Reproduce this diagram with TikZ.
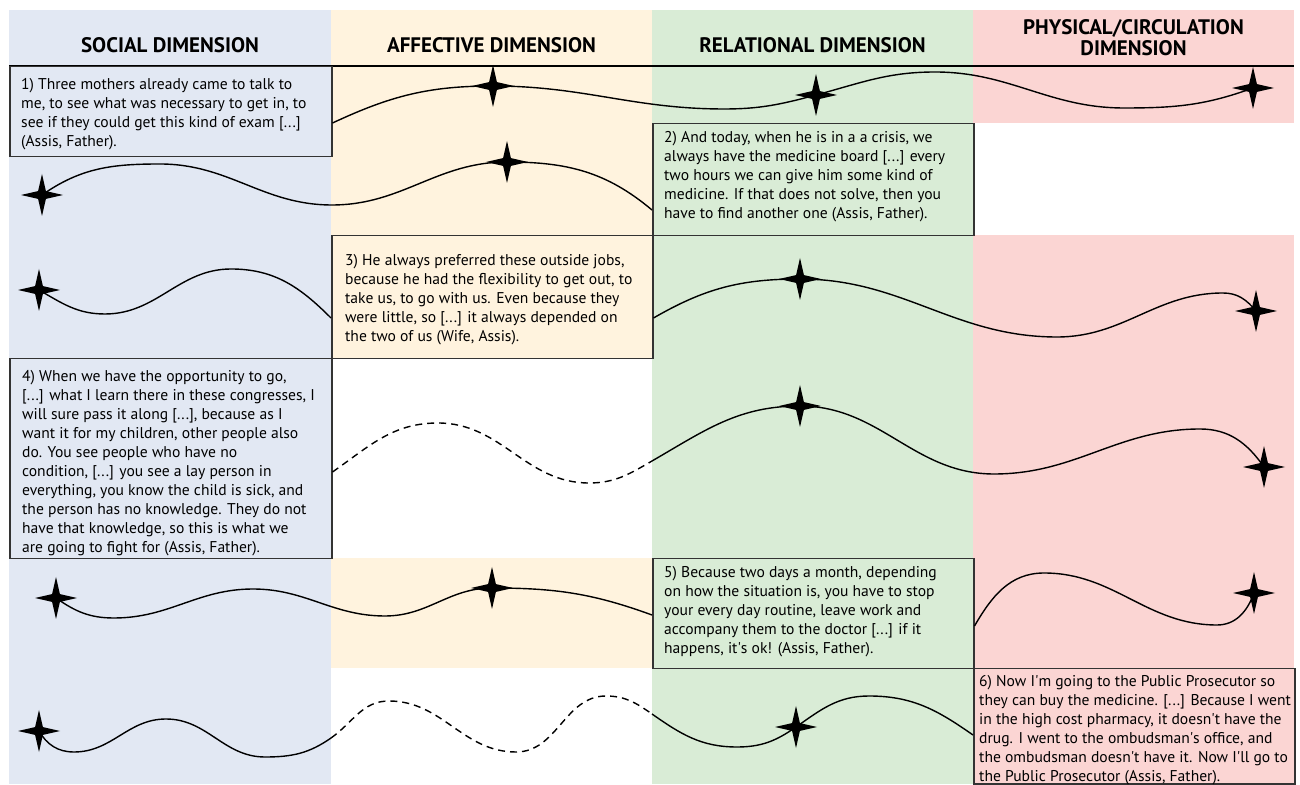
\documentclass[tikz,border=0pt]{standalone}
\usepackage{fontspec}
\setmainfont{PT Sans}
\usetikzlibrary{shapes.geometric}
\definecolor{socbg}{HTML}{E2E8F3}
\definecolor{affbg}{HTML}{FFF3DE}
\definecolor{relbg}{HTML}{D9ECD6}
\definecolor{phybg}{HTML}{FBD5D3}
\definecolor{boxline}{HTML}{333333}
\newcommand{\apo}{\textquotesingle}
\begin{document}
\begin{tikzpicture}[x=1pt,y=1pt,
  hdr/.style={font=\fontsize{21}{21}\selectfont\bfseries, align=center, inner sep=0pt},
  qbox/.style={draw=boxline, line width=1.5pt, rectangle, anchor=north west, inner sep=0pt},
  qtext/.style={font=\fontsize{15.6}{19}\selectfont, align=left, anchor=north west, inner sep=0pt},
  mark4/.style={star, star points=4, star point ratio=3.8, minimum size=42pt, inner sep=0pt, fill=black, draw=none},
  wave/.style={line width=1.4pt, black},
  dwave/.style={wave, dash pattern=on 7pt off 5pt}
]
\useasboundingbox (0,0) rectangle (1300,784);
% column backgrounds
\fill[socbg] (9,0) rectangle (331,774);
\fill[affbg] (331,426) rectangle (652,774);
\fill[affbg] (331,116) rectangle (652,226);
\fill[relbg] (652,0) rectangle (973,774);
\fill[phybg] (973,661) rectangle (1294,774);
\fill[phybg] (973,0) rectangle (1294,549);
% headers
\node[hdr] (h1) at (170,739) {SOCIAL DIMENSION};
\node[hdr] (h2) at (491.5,739) {AFFECTIVE DIMENSION};
\node[hdr] (h3) at (812.5,739) {RELATIONAL DIMENSION};
\node[hdr] (h4) at (1133.5,746.5) {PHYSICAL/CIRCULATION\\DIMENSION};
\draw[line width=2pt] (9,718) -- (1294,718);
% boxes
\node[qbox, fill=socbg, minimum width=322pt, minimum height=90pt] (b1) at (9,718) {};
\node[qbox, fill=relbg, minimum width=321pt, minimum height=112pt] (b2) at (652,661) {};
\node[qbox, fill=affbg, minimum width=321pt, minimum height=123pt] (b3) at (331,549) {};
\node[qbox, fill=socbg, minimum width=322pt, minimum height=200pt] (b4) at (9,426) {};
\node[qbox, fill=relbg, minimum width=321pt, minimum height=110pt] (b5) at (652,226) {};
\node[qbox, fill=phybg, minimum width=321pt, minimum height=115pt] (b6) at (973,116) {};
% texts
\node[qtext] (t1) at (21,706) {1) Three mothers already came to talk to\\me, to see what was necessary to get in, to\\see if they could get this kind of exam [...]\\(Assis, Father).};
\node[qtext] (t2) at (664,653) {2) And today, when he is in a a crisis, we\\always have the medicine board [...] every\\two hours we can give him some kind of\\medicine. If that does not solve, then you\\have to find another one (Assis, Father).};
\node[qtext] (t3) at (345,530) {3) He always preferred these outside jobs,\\because he had the flexibility to get out, to\\take us, to go with us. Even because they\\were little, so [...] it always depended on\\the two of us (Wife, Assis).};
\node[qtext] (t4) at (22,414) {4) When we have the opportunity to go,\\{[...]} what I learn there in these congresses, I\\will sure pass it along [...], because as I\\want it for my children, other people also\\do. You see people who have no\\condition, [...] you see a lay person in\\everything, you know the child is sick, and\\the person has no knowledge. They do not\\have that knowledge, so this is what we\\are going to fight for (Assis, Father).};
\node[qtext] (t5) at (664,218) {5) Because two days a month, depending\\on how the situation is, you have to stop\\your every day routine, leave work and\\accompany them to the doctor [...] if it\\happens, it\apo s ok! (Assis, Father).};
\node[qtext] (t6) at (979,109) {6) Now I\apo m going to the Public Prosecutor so\\they can buy the medicine. [...] Because I went\\in the high cost pharmacy, it doesn\apo t have the\\drug. I went to the ombudsman\apo s office, and\\the ombudsman doesn\apo t have it. Now I\apo ll go to\\the Public Prosecutor (Assis, Father).};
% stars
\node[mark4] (s1a) at (493,698) {};
\node[mark4] (s1b) at (816,689) {};
\node[mark4] (s1c) at (1253,696) {};
\node[mark4] (s2a) at (507,622) {};
\node[mark4] (s2b) at (42,589) {};
\node[mark4] (s3a) at (39,494) {};
\node[mark4] (s3b) at (800,505) {};
\node[mark4] (s3c) at (1256,473) {};
\node[mark4] (s4a) at (800,378) {};
\node[mark4] (s4b) at (1264,317) {};
\node[mark4] (s5a) at (56,186) {};
\node[mark4] (s5b) at (492,196) {};
\node[mark4] (s5c) at (1254,191) {};
\node[mark4] (s6a) at (39,53) {};
\node[mark4] (s6b) at (796,57) {};
\coordinate (c4j) at (652,323);
\coordinate (c6a) at (331,46);
\coordinate (c6b) at (652,70);
% curves
\draw[wave] ([yshift=-57pt]b1.north east) to[out=25,in=180] (s1a.center) to[out=0,in=180] (724,675) to[out=0,in=195] (s1b.center) to[out=15,in=180] (935,712) to[out=0,in=180] (1124,676) to[out=0,in=200] (s1c.center);
\draw[wave] (s2b.center) to[out=35,in=180] (160,620) to[out=0,in=180] (332,579) to[out=0,in=180] (s2a.center) to[out=0,in=140] ([yshift=-87pt]b2.north west);
\draw[wave] (s3a.center) to[out=-30,in=180] (105,470) to[out=0,in=180] (231,515) to[out=0,in=135] ([yshift=-83pt]b3.north west);
\draw[wave] ([yshift=-83pt]b3.north east) to[out=30,in=180] (s3b.center) to[out=0,in=180] (1057,447) to[out=0,in=180] (1223,491) to[out=0,in=130] (s3c.center);
\draw[dwave] ([yshift=-114pt]b4.north east) to[out=35,in=180] (438,361) to[out=0,in=180] (589,301) to[out=0,in=210] (c4j);
\draw[wave] (c4j) to[out=30,in=180] (s4a.center) to[out=0,in=180] (994,310) to[out=0,in=180] (1200,355) to[out=0,in=125] (s4b.center);
\draw[wave] (s5a.center) to[out=-35,in=180] (114,166) to[out=0,in=180] (253,195) to[out=0,in=180] (385,168) to[out=0,in=180] (s5b.center) to[out=0,in=160] ([yshift=-57pt]b5.north west);
\draw[wave] ([yshift=-68pt]b5.north east) to[out=60,in=180] (1044,211) to[out=0,in=180] (1217,159) to[out=0,in=250] (s5c.center);
\draw[wave] (s6a.center) to[out=-60,in=180] (74,32) to[out=0,in=180] (166,65) to[out=0,in=180] (265,27) to[out=0,in=215] (c6a);
\draw[dwave] (c6a) to[out=35,in=180] (389,83) to[out=0,in=180] (516,32) to[out=0,in=180] (606,88) to[out=0,in=145] (c6b);
\draw[wave] (c6b) to[out=-35,in=180] (737,37) to[out=0,in=215] (s6b.center) to[out=35,in=180] (869,88) to[out=0,in=145] ([yshift=-67pt]b6.north west);
\end{tikzpicture}
\end{document}
